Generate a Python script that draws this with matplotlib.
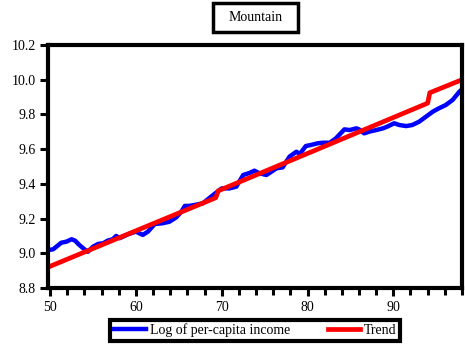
import matplotlib.pyplot as plt
from matplotlib.patches import Rectangle
from matplotlib.ticker import MultipleLocator

# log of per-capita income, Mountain region
years = [49.8, 50.35, 51.3, 51.9, 52.5, 52.9, 53.4, 54.0, 54.4, 55.0, 55.6,
         56.2, 56.7, 57.3, 57.7, 58.1, 59.1, 60.0, 60.4, 60.8, 61.4, 62.2,
         63.1, 63.9, 64.7, 65.3, 65.7, 66.2, 66.8, 67.8, 69.0, 70.0, 70.9,
         71.7, 72.5, 73.3, 73.8, 74.4, 75.2, 76.4, 77.1, 77.9, 78.7, 79.1,
         79.8, 80.4, 81.2, 81.8, 82.6, 83.3, 84.3, 84.9, 85.7, 86.0, 86.6,
         87.2, 88.0, 88.8, 89.3, 90.1, 90.7, 91.5, 92.2, 93.0, 93.8, 94.6,
         95.3, 96.1, 96.9, 97.7, 98.0]
income = [9.019, 9.023, 9.061, 9.067, 9.081, 9.073, 9.048, 9.023, 9.009,
          9.038, 9.054, 9.058, 9.073, 9.081, 9.100, 9.087, 9.110, 9.125,
          9.115, 9.106, 9.125, 9.169, 9.173, 9.182, 9.207, 9.240, 9.273,
          9.273, 9.278, 9.288, 9.336, 9.374, 9.374, 9.384, 9.451, 9.464,
          9.476, 9.461, 9.451, 9.490, 9.495, 9.557, 9.585, 9.572, 9.618,
          9.624, 9.634, 9.637, 9.637, 9.662, 9.714, 9.710, 9.720, 9.714,
          9.691, 9.701, 9.710, 9.720, 9.730, 9.749, 9.739, 9.733, 9.739,
          9.758, 9.787, 9.816, 9.835, 9.854, 9.883, 9.931, 9.945]

# broken linear trend
trend_years = [49.75, 69.3, 69.6, 94.0, 94.25, 98.0]
trend = [8.92, 9.32, 9.36, 9.865, 9.925, 10.0]

plt.rcParams['font.family'] = ['Liberation Serif', 'DejaVu Serif']
plt.rcParams['font.size'] = 10

fig = plt.figure(figsize=(4.65, 3.47), dpi=100)
ax = fig.add_axes([0.1032, 0.170, 0.8903, 0.7003])

ax.plot(years, income, color='#0000ff', lw=3.2, label='Log of per-capita income')
ax.plot(trend_years, trend, color='#ff0000', lw=3.4, label='Trend')

ax.set_xlim(49.75, 98.0)
ax.set_ylim(8.8, 10.2)
ax.xaxis.set_major_locator(MultipleLocator(10))
ax.xaxis.set_minor_locator(MultipleLocator(2))
ax.yaxis.set_major_locator(MultipleLocator(0.2))
ax.yaxis.set_major_formatter(plt.FormatStrFormatter('%.1f'))

for s in ax.spines.values():
    s.set_linewidth(3)
ax.tick_params(which='both', direction='out', width=2.2, length=6, pad=3)
ax.tick_params(axis='x', which='minor', length=5)

# boxed title
fig.add_artist(Rectangle((0.458, 0.9078), 0.183, 0.0836, transform=fig.transFigure,
                         fc='white', ec='black', lw=2.5))
fig.text(0.5495, 0.9496, 'Mountain', ha='center', va='center', fontsize=10)

leg = fig.legend(loc='center', bbox_to_anchor=(0.5484, 0.048), ncol=2,
                 frameon=True, fancybox=False, edgecolor='black', framealpha=1,
                 handlelength=2.3, handletextpad=0.3, columnspacing=2.7,
                 borderpad=0.25, fontsize=10)
leg.get_frame().set_linewidth(3)

fig.savefig('out.png', dpi=100)
